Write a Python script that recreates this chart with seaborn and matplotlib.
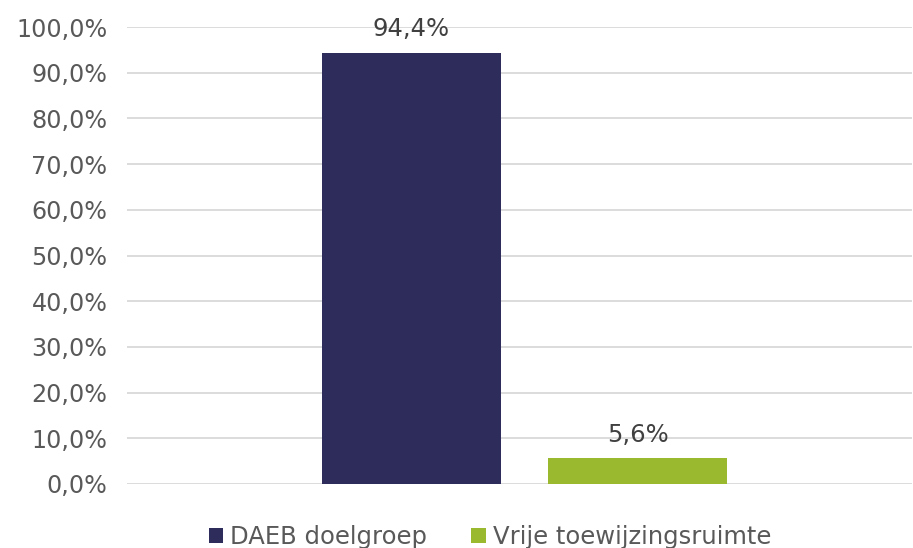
import matplotlib
matplotlib.use("Agg")
import matplotlib.pyplot as plt
import matplotlib.ticker as mticker
from matplotlib.patches import Patch
import pandas as pd
import seaborn as sns

# Data
categories = ["Toewijzingen"]
series = ["DAEB doelgroep", "Vrije toewijzingsruimte"]
values = [94.4, 5.6]
value_labels = ["94,4%", "5,6%"]
colors = ["#2E2C5A", "#9AB92F"]
yticks = [0, 10, 20, 30, 40, 50, 60, 70, 80, 90, 100]

df = pd.DataFrame({"cat": categories * len(series), "serie": series, "pct": values})

sns.set_theme(style="white")
plt.rcParams["font.family"] = ["DejaVu Sans"]

fig = plt.figure(figsize=(9.13, 5.48), dpi=100)
ax = fig.add_axes([127 / 913, (548 - 484) / 548, (912 - 127) / 913, (484 - 27) / 548])

sns.barplot(data=df, x="cat", y="pct", hue="serie", palette=colors,
            width=0.576, gap=0.208, saturation=1, linewidth=0,
            legend=False, ax=ax)

ax.set_ylim(0, 100)
ax.set_xlim(-0.5 - 0.0064, 0.5 - 0.0064)
ax.set_yticks(yticks)
ax.yaxis.set_major_formatter(mticker.FuncFormatter(lambda v, p: f"{v:.1f}%".replace(".", ",")))
ax.tick_params(axis="y", labelsize=17.2, labelcolor="#595959", length=0, pad=14)
ax.set_xticks([])
ax.set_xlabel("")
ax.set_ylabel("")
ax.grid(axis="y", color="#D9D9D9", linewidth=1.3)
ax.set_axisbelow(True)
for s in ax.spines.values():
    s.set_visible(False)

for bar_container, lab in zip(ax.containers, value_labels):
    ax.bar_label(bar_container, labels=[lab], padding=8, fontsize=17.5, color="#404040")

handles = [Patch(facecolor=c, edgecolor="none", label=s) for c, s in zip(colors, series)]
fig.legend(handles=handles, loc="center", bbox_to_anchor=(490 / 913, 1 - 537 / 548), ncol=2,
           frameon=False, fontsize=17.5, labelcolor="#595959", handlelength=0.6,
           handleheight=0.6, handletextpad=0.3, columnspacing=1.8)

fig.savefig("out.png", dpi=100)
